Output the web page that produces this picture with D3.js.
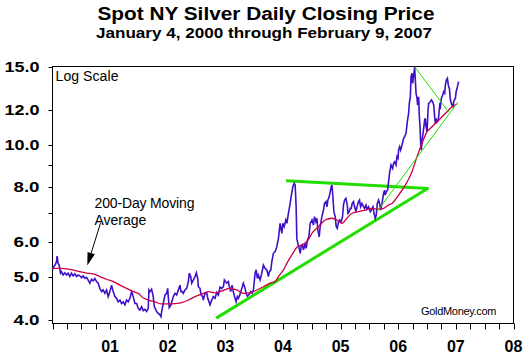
<!DOCTYPE html>
<html><head><meta charset="utf-8">
<script src="https://cdn.jsdelivr.net/npm/d3@7"></script>
<style>html,body{margin:0;padding:0;background:#fff;}svg{display:block;}</style>
</head><body>
<script>
// ---------- data ----------
const priceYears = [2000.000,2000.023,2000.045,2000.070,2000.080,2000.097,2000.115,2000.139,2000.156,2000.184,2000.214,2000.243,2000.271,2000.301,2000.330,2000.358,2000.388,2000.417,2000.445,2000.474,2000.504,2000.532,2000.561,2000.591,2000.619,2000.648,2000.678,2000.706,2000.735,2000.765,2000.792,2000.822,2000.852,2000.879,2000.909,2000.938,2000.966,2000.996,
2001.025,2001.053,2001.083,2001.112,2001.140,2001.170,2001.199,2001.227,2001.257,2001.286,2001.314,2001.343,2001.373,2001.401,2001.430,2001.460,2001.488,2001.517,2001.547,2001.575,2001.604,2001.634,2001.661,2001.674,2001.691,2001.720,2001.748,2001.766,2001.790,2001.807,2001.835,2001.865,2001.882,2001.894,2001.922,2001.952,2001.981,2001.999,
2002.009,2002.026,2002.056,2002.079,2002.096,2002.126,2002.155,2002.183,2002.212,2002.229,2002.252,2002.270,2002.299,2002.329,2002.357,2002.374,2002.398,2002.416,2002.443,2002.473,2002.496,2002.520,2002.530,2002.560,2002.577,2002.607,2002.617,2002.647,2002.676,2002.694,2002.734,2002.763,2002.791,2002.821,2002.850,2002.878,2002.908,2002.937,2002.965,2002.983,
2003.024,2003.052,2003.070,2003.093,2003.116,2003.139,2003.168,2003.186,2003.208,2003.226,2003.255,2003.285,2003.312,2003.342,2003.359,2003.382,2003.417,2003.441,2003.464,2003.486,2003.516,2003.533,2003.556,2003.573,2003.603,2003.632,2003.660,2003.690,2003.719,2003.747,2003.764,2003.789,2003.806,2003.834,2003.864,2003.893,2003.921,2003.950,2003.980,2003.997,
2004.020,2004.049,2004.067,2004.094,2004.124,2004.141,2004.171,2004.194,2004.211,2004.228,2004.240,2004.258,2004.275,2004.298,2004.315,2004.338,2004.355,2004.385,2004.402,2004.425,2004.449,2004.472,2004.503,2004.529,2004.546,2004.571,2004.588,2004.606,2004.628,2004.645,2004.675,2004.703,2004.720,2004.745,2004.762,2004.779,2004.802,2004.819,2004.837,2004.849,2004.866,2004.883,2004.906,2004.923,2004.941,2004.964,2004.981,
2005.010,2005.033,2005.050,2005.068,2005.092,2005.115,2005.127,2005.149,2005.167,2005.184,2005.201,2005.224,2005.242,2005.266,2005.283,2005.311,2005.328,2005.346,2005.370,2005.398,2005.415,2005.440,2005.457,2005.485,2005.514,2005.532,2005.561,2005.579,2005.601,2005.619,2005.636,2005.659,2005.676,2005.694,2005.718,2005.746,2005.763,2005.775,2005.792,2005.815,2005.832,2005.849,2005.874,2005.902,2005.919,2005.937,2005.961,2005.978,2005.996,
2006.006,2006.024,2006.041,2006.065,2006.093,2006.110,2006.135,2006.157,2006.180,2006.192,2006.210,2006.222,2006.239,2006.250,2006.267,2006.279,2006.284,2006.296,2006.309,2006.326,2006.336,2006.354,2006.366,2006.378,2006.389,2006.401,2006.413,2006.430,2006.448,2006.458,2006.470,2006.482,2006.500,2006.517,2006.528,2006.557,2006.575,2006.597,2006.615,2006.632,2006.644,2006.661,2006.674,2006.691,2006.701,2006.719,2006.731,2006.748,2006.771,2006.788,2006.806,2006.818,2006.835,2006.853,2006.865,2006.875,2006.887,2006.905,2006.922,2006.934,2006.951,2006.962,2006.974,2006.992,
2007.004,2007.021,2007.039,2007.049];
const priceValues = [5.20,5.29,5.33,5.43,5.59,5.38,5.33,5.11,5.15,5.06,5.12,5.06,5.11,5.02,5.11,5.04,5.09,5.02,5.06,5.04,4.99,5.04,4.97,5.00,4.93,4.85,4.95,4.91,4.97,4.89,4.85,4.72,4.64,4.68,4.60,4.68,4.52,4.64,
4.80,4.64,4.52,4.48,4.40,4.44,4.36,4.40,4.33,4.44,4.40,4.48,4.64,4.52,4.36,4.36,4.25,4.21,4.29,4.20,4.23,4.18,4.25,4.68,4.64,4.70,4.52,4.29,4.23,4.18,4.14,4.11,4.07,4.18,4.36,4.56,4.60,4.72,
4.52,4.27,4.33,4.44,4.52,4.60,4.56,4.68,4.80,4.64,4.64,4.60,4.68,4.72,4.89,5.11,5.02,4.85,4.93,5.02,5.12,4.97,4.76,4.72,4.56,4.52,4.44,4.60,4.62,4.48,4.33,4.44,4.52,4.48,4.62,4.56,4.75,4.72,4.76,4.93,
4.85,4.89,4.76,4.64,4.80,4.63,4.48,4.40,4.52,4.48,4.58,4.72,4.85,4.72,4.60,4.53,4.58,4.64,4.60,4.68,5.11,5.20,4.97,5.06,4.93,5.11,5.33,5.24,5.20,5.02,5.15,5.20,5.43,5.67,5.72,5.87,6.13,6.63,6.29,6.63,
6.52,6.75,6.63,6.99,7.36,7.62,8.03,8.18,8.11,7.23,6.13,5.97,5.87,5.67,5.87,5.92,5.77,5.97,5.82,6.08,6.18,6.63,6.75,6.57,6.87,6.69,6.81,6.40,6.18,6.52,6.87,7.11,7.36,7.43,7.23,7.49,7.62,7.82,8.03,8.10,7.62,7.05,6.87,6.52,6.46,6.69,6.75,
6.69,6.87,7.30,7.49,7.56,7.30,6.99,7.05,7.17,7.17,7.36,7.43,7.23,7.05,7.23,7.43,7.49,7.23,7.36,7.23,7.17,7.30,7.14,7.23,7.05,7.11,7.23,6.99,6.81,6.93,7.36,7.49,7.36,7.11,7.36,7.76,7.89,7.69,7.82,7.89,8.25,8.62,9.00,8.84,9.08,9.15,9.00,9.40,9.32,
9.73,9.90,9.73,9.99,10.35,10.43,10.62,11.28,11.79,12.42,12.86,14.28,14.54,13.79,14.41,14.79,15.05,14.03,13.09,12.75,12.31,12.86,11.58,10.99,10.08,9.73,10.25,10.62,11.09,11.39,11.49,10.99,10.71,12.00,12.42,12.53,12.64,12.53,12.31,11.58,11.19,11.39,11.28,11.39,11.58,12.31,12.21,12.75,12.98,13.20,13.09,13.67,14.03,14.16,13.79,13.55,13.44,12.64,12.42,12.31,12.21,12.53,12.64,12.75,
13.20,13.44,13.79,13.91];

const maYears  = [2000.000,2000.127,2000.301,2000.474,2000.591,2000.706,2000.822,2000.938,2001.053,2001.170,2001.286,2001.401,2001.505,2001.547,2001.661,2001.778,2001.894,2002.009,2002.126,2002.242,2002.357,2002.473,2002.590,2002.704,2002.821,2002.942,2003.081,2003.198,2003.312,2003.429,2003.545,2003.660,2003.777,2003.864,2003.921,2004.008,2004.067,2004.154,2004.241,2004.355,2004.437,2004.501,2004.616,2004.732,2004.849,2004.936,2005.023,2005.110,2005.196,2005.311,2005.428,2005.544,2005.659,2005.746,2005.832,2005.892,2006.006,2006.123,2006.239,2006.326,2006.413,2006.500,2006.587,2006.674,2006.761,2006.847,2006.934,2007.021];
const maValues = [5.24,5.24,5.21,5.15,5.11,5.09,5.02,4.95,4.89,4.80,4.72,4.64,4.58,4.52,4.44,4.40,4.35,4.35,4.36,4.38,4.44,4.52,4.58,4.64,4.61,4.66,4.72,4.68,4.60,4.61,4.68,4.76,4.85,4.89,5.02,5.20,5.38,5.62,5.85,5.95,6.08,6.29,6.52,6.75,6.81,6.75,6.63,6.81,6.99,7.05,7.11,7.17,7.14,7.17,7.30,7.36,7.69,8.10,8.69,9.40,10.08,10.71,10.99,11.28,11.58,11.89,12.21,12.38];

// trend lines: [start, end]
const bigTrendYears  = [[2002.841, 2006.517], [2004.054, 2006.528]];
const bigTrendValues = [[4.04, 7.97], [8.29, 7.96]];
const thinTrendYears  = [[2006.284, 2006.875], [2005.632, 2007.032]];
const thinTrendValues = [[15.05, 11.87], [7.05, 12.49]];

const yTickValues  = [4, 5, 6, 7, 8, 9, 10, 12, 15];
const yLabelValues = [4, 5, 6, 8, 10, 12, 15];
const xTickYears   = d3.range(2000, 2008.001, 0.25);
const xLabelYears  = [2001, 2002, 2003, 2004, 2005, 2006, 2007, 2008];
const xLabelText   = ["01", "02", "03", "04", "05", "06", "07", "08"];

// ---------- drawing ----------
const W = 532, H = 360;
const L = 52.5, R = 513.5, T = 66.5, B = 323.5;
const svg = d3.select("body").append("svg").attr("width", W).attr("height", H);

const x = d3.scaleLinear().domain([2000, 2008]).range([L, R]);
const y = d3.scaleLog().domain([4, 15]).range([320, 67.3]);

const FONT = "'Liberation Sans', Arial, sans-serif";

// titles
svg.append("text").attr("x", 266).attr("y", 20).attr("text-anchor", "middle")
  .attr("font-family", FONT).attr("font-weight", "bold").attr("font-size", 18)
  .attr("textLength", 337).attr("lengthAdjust", "spacingAndGlyphs")
  .text("Spot NY Silver Daily Closing Price");
svg.append("text").attr("x", 264).attr("y", 37.5).attr("text-anchor", "middle")
  .attr("font-family", FONT).attr("font-weight", "bold").attr("font-size", 15)
  .attr("textLength", 336).attr("lengthAdjust", "spacingAndGlyphs")
  .text("January 4, 2000 through February 9, 2007");

// y ticks and labels
svg.append("g").selectAll("line").data(yTickValues).join("line")
  .attr("x1", L - 4).attr("x2", L)
  .attr("y1", d => Math.round(y(d)) + 0.5).attr("y2", d => Math.round(y(d)) + 0.5)
  .attr("stroke", "#000").attr("stroke-width", 1);
svg.append("g").selectAll("text").data(yLabelValues).join("text")
  .attr("x", 39.5).attr("y", d => y(d) + 5).attr("text-anchor", "end")
  .attr("font-family", FONT).attr("font-weight", "bold").attr("font-size", 14)
  .attr("textLength", d => d >= 10 ? 35 : 26).attr("lengthAdjust", "spacingAndGlyphs")
  .text(d => d3.format(".1f")(d));

// x ticks and labels
svg.append("g").selectAll("line").data(xTickYears).join("line")
  .attr("x1", d => Math.round(x(d)) + 0.5).attr("x2", d => Math.round(x(d)) + 0.5)
  .attr("y1", B).attr("y2", B + 6)
  .attr("stroke", "#000").attr("stroke-width", 1);
svg.append("g").selectAll("text").data(xLabelYears).join("text")
  .attr("x", d => x(d)).attr("y", 351.5).attr("text-anchor", "middle")
  .attr("font-family", FONT).attr("font-weight", "bold").attr("font-size", 16)
  .text((d, i) => xLabelText[i]);

// frame
svg.append("rect").attr("x", L).attr("y", T).attr("width", R - L).attr("height", B - T)
  .attr("fill", "none").attr("stroke", "#000").attr("stroke-width", 1);

// big green trend lines
svg.append("g").selectAll("line").data(bigTrendYears).join("line")
  .attr("x1", d => x(d[0])).attr("x2", d => x(d[1]))
  .attr("y1", (d, i) => y(bigTrendValues[i][0])).attr("y2", (d, i) => y(bigTrendValues[i][1]))
  .attr("stroke", "#22dd00").attr("stroke-width", 3);

// price line
const priceData = priceYears.map((t, i) => [t, priceValues[i]]);
svg.append("path").datum(priceData)
  .attr("d", d3.line().x(d => x(d[0])).y(d => y(d[1])))
  .attr("fill", "none").attr("stroke", "#4010c8").attr("stroke-width", 1.6)
  .attr("stroke-linejoin", "miter");

// moving average
const maData = maYears.map((t, i) => [t, maValues[i]]);
svg.append("path").datum(maData)
  .attr("d", d3.line().curve(d3.curveMonotoneX).x(d => x(d[0])).y(d => y(d[1])))
  .attr("fill", "none").attr("stroke", "#cc0040").attr("stroke-width", 1.3);

// thin green trend lines
svg.append("g").selectAll("line").data(thinTrendYears).join("line")
  .attr("x1", d => x(d[0])).attr("x2", d => x(d[1]))
  .attr("y1", (d, i) => y(thinTrendValues[i][0])).attr("y2", (d, i) => y(thinTrendValues[i][1]))
  .attr("stroke", "#22dd00").attr("stroke-width", 1);

// annotations
svg.append("text").attr("x", 55.5).attr("y", 80.5)
  .attr("font-family", FONT).attr("font-size", 14).attr("textLength", 63)
  .text("Log Scale");
svg.append("text").attr("x", 94.5).attr("y", 207.5)
  .attr("font-family", FONT).attr("font-size", 14).attr("textLength", 100)
  .text("200-Day Moving");
svg.append("text").attr("x", 94.5).attr("y", 225)
  .attr("font-family", FONT).attr("font-size", 14)
  .text("Average");
svg.append("text").attr("x", 421).attr("y", 315)
  .attr("font-family", FONT).attr("font-size", 11).attr("textLength", 75.5)
  .text("GoldMoney.com");

// arrow (annotation anchored in data space)
const arrowFrom = [2000.833, 6.64], arrowTo = [2000.604, 5.32];
const ax1 = x(arrowFrom[0]), ay1 = y(arrowFrom[1]), ax2 = x(arrowTo[0]), ay2 = y(arrowTo[1]);
const len = Math.hypot(ax2 - ax1, ay2 - ay1), ux = (ax2 - ax1) / len, uy = (ay2 - ay1) / len;
const headL = 13, headW = 3.8;
const bx = ax2 - ux * headL, by = ay2 - uy * headL;
svg.append("line").attr("x1", ax1).attr("y1", ay1).attr("x2", bx).attr("y2", by)
  .attr("stroke", "#000").attr("stroke-width", 1);
svg.append("path")
  .attr("d", `M${ax2},${ay2}L${bx - uy * headW},${by + ux * headW}L${bx + uy * headW},${by - ux * headW}Z`)
  .attr("fill", "#000");
</script>
</body></html>
